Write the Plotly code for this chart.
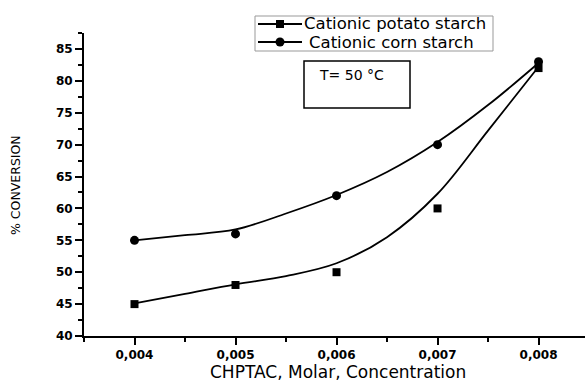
import plotly.graph_objects as go

# Data
conc = [0.004, 0.005, 0.006, 0.007, 0.008]
potato = [45, 48, 50, 60, 82]
corn = [55, 56, 62, 70, 83]

# Smooth fitted curves
fit_x = [0.004, 0.0045, 0.005, 0.0055, 0.006, 0.0065, 0.007, 0.0075, 0.008]
potato_fit = [45.1, 46.6, 48.1, 49.4, 51.4, 55.5, 62.3, 72.2, 82.2]
corn_fit = [55.0, 55.8, 56.7, 59.2, 62.1, 65.7, 70.4, 76.2, 82.8]

tick_vals = [0.004, 0.005, 0.006, 0.007, 0.008]
tick_text = ["0,004", "0,005", "0,006", "0,007", "0,008"]
y_ticks = [40, 45, 50, 55, 60, 65, 70, 75, 80, 85]
series_names = ["Cationic potato starch", "Cationic corn starch"]

FONT = "DejaVu Sans, sans-serif"

fig = go.Figure()

fig.add_trace(go.Scatter(x=fit_x, y=potato_fit, mode="lines", line=dict(color="black", width=1.8, shape="spline"),
                         showlegend=False, hoverinfo="skip"))
fig.add_trace(go.Scatter(x=fit_x, y=corn_fit, mode="lines", line=dict(color="black", width=1.8, shape="spline"),
                         showlegend=False, hoverinfo="skip"))
fig.add_trace(go.Scatter(x=conc, y=potato, mode="markers", name=series_names[0],
                         marker=dict(symbol="square", size=8, color="black"), showlegend=False))
fig.add_trace(go.Scatter(x=conc, y=corn, mode="markers", name=series_names[1],
                         marker=dict(symbol="circle", size=9, color="black"), showlegend=False))

W, H = 585, 381
L, R, T, B = 84, 0, 33, 45
pw = W - L - R
ph = H - T - B

def px_x(p):
    return (p - L) / pw

def px_y(p):
    return (H - B - p) / ph

fig.update_layout(
    width=W, height=H,
    margin=dict(l=L, r=R, t=T, b=B),
    paper_bgcolor="white", plot_bgcolor="white",
    font=dict(family=FONT, color="black"),
    showlegend=False,
    xaxis=dict(range=[0.0035, 0.00846], showgrid=False, zeroline=False,
               showline=True, linecolor="black", linewidth=2,
               ticks="outside", ticklen=7, tickwidth=2, tickcolor="black",
               tickvals=tick_vals, ticktext=tick_text,
               tickfont=dict(size=12, family=FONT, weight="bold"),
               minor=dict(ticks="outside", ticklen=4, tickwidth=2, tickcolor="black", dtick=0.0005, tick0=0.0035)),
    yaxis=dict(range=[40, 87.5], showgrid=False, zeroline=False,
               showline=True, linecolor="black", linewidth=2,
               ticks="outside", ticklen=7, tickwidth=2, tickcolor="black",
               tickvals=y_ticks,
               tickfont=dict(size=12, family=FONT, weight="bold"),
               minor=dict(ticks="outside", ticklen=4, tickwidth=2, tickcolor="black", dtick=2.5, tick0=40)),
)

# Manual legend
fig.add_shape(type="rect", xref="paper", yref="paper",
              x0=px_x(255), x1=px_x(493), y0=px_y(51), y1=px_y(16),
              line=dict(color="#999999", width=1), fillcolor="white", layer="above")
legend_rows = [(24, "square", 302), (42, "circle", 307)]
for (ry, sym, tx), name in zip(legend_rows, series_names):
    fig.add_shape(type="line", xref="paper", yref="paper",
                  x0=px_x(258), x1=px_x(302), y0=px_y(ry), y1=px_y(ry),
                  line=dict(color="black", width=1.8), layer="above")
    if sym == "square":
        fig.add_shape(type="rect", xref="paper", yref="paper",
                      x0=px_x(276), x1=px_x(284), y0=px_y(ry + 4), y1=px_y(ry - 4),
                      line=dict(width=0), fillcolor="black", layer="above")
    else:
        fig.add_shape(type="circle", xref="paper", yref="paper",
                      x0=px_x(275.5), x1=px_x(284.5), y0=px_y(ry + 4.5), y1=px_y(ry - 4.5),
                      line=dict(width=0), fillcolor="black", layer="above")
    fig.add_annotation(xref="paper", yref="paper", x=px_x(tx), y=px_y(ry), xanchor="left", yanchor="middle",
                       text=name, showarrow=False, font=dict(size=16.5, family=FONT))

# T = 50 °C box
fig.add_shape(type="rect", xref="paper", yref="paper",
              x0=px_x(304), x1=px_x(410), y0=px_y(108), y1=px_y(61),
              line=dict(color="black", width=1.5), fillcolor="rgba(0,0,0,0)")
fig.add_annotation(xref="paper", yref="paper", x=px_x(317), y=px_y(75), xanchor="left", yanchor="middle",
                   text="T= 50 °C", showarrow=False, font=dict(size=14, family=FONT))

# axis titles
fig.add_annotation(xref="paper", yref="paper", x=px_x(338), y=px_y(372), xanchor="center", yanchor="middle",
                   text="CHPTAC, Molar, Concentration", showarrow=False, font=dict(size=17, family=FONT))
fig.add_annotation(xref="paper", yref="paper", x=px_x(15), y=px_y(185), xanchor="center", yanchor="middle",
                   text="% CONVERSION", textangle=-90, showarrow=False, font=dict(size=12.5, family=FONT))

fig.write_html("out.html")
